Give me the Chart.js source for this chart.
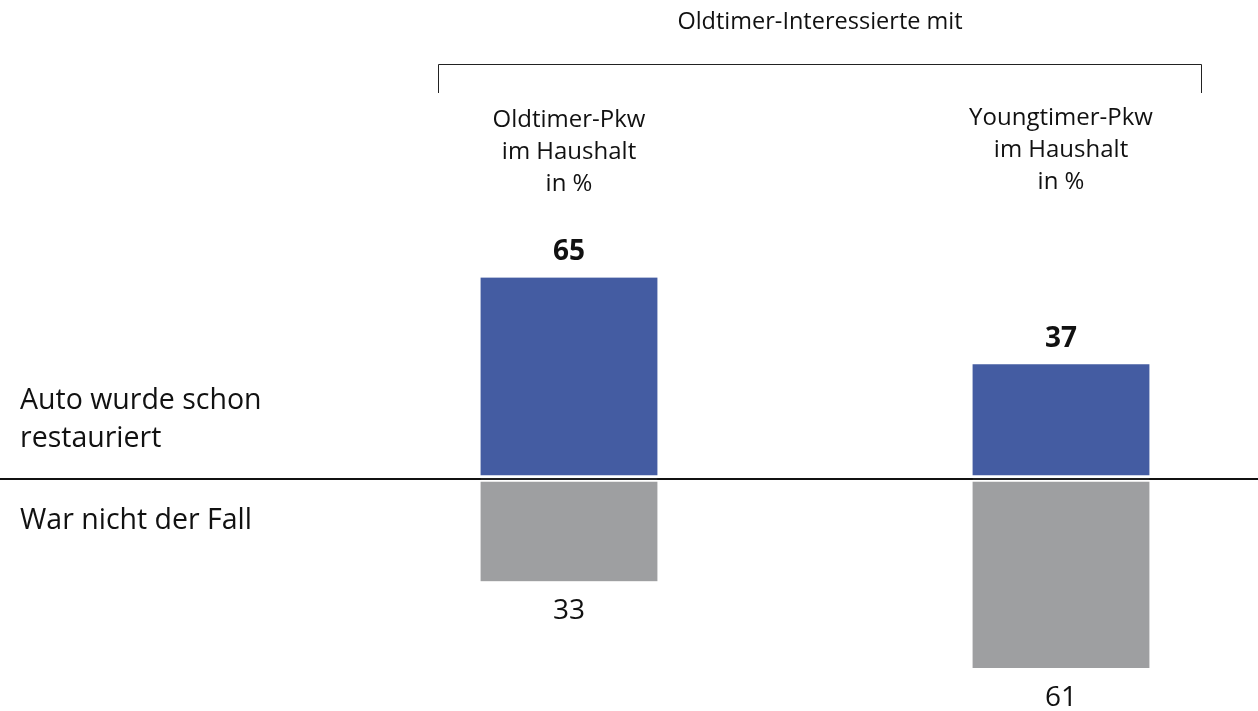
<!DOCTYPE html>
<html lang="de">
<head>
    <meta charset="UTF-8">
    <title>Oldtimer-Interessierte</title>
    <script src="https://cdn.jsdelivr.net/npm/chart.js"></script>
    <style>
        html, body {
            margin: 0;
            padding: 0;
            background: #fff;
        }
        #wrap {
            width: 1258px;
            height: 711px;
        }
    </style>
</head>
<body>
<div id="wrap"><canvas id="chart"></canvas></div>

<script>
    // Daten
    const groupTitle = 'Oldtimer-Interessierte mit';
    const categories = [
        ['Oldtimer-Pkw', 'im Haushalt', 'in %'],
        ['Youngtimer-Pkw', 'im Haushalt', 'in %']
    ];
    const rowLabels = [['Auto wurde schon', 'restauriert'], ['War nicht der Fall']];
    const restauriert = [65, 37];
    const nichtRestauriert = [33, 61];

    const FONT = '"Open Sans", "Noto Sans", sans-serif';
    const BLUE = '#445ca2';
    const GREY = '#9e9fa1';
    const TEXT = '#111';

    // Beschriftungen, Klammer und Zeilentitel
    const annotate = {
        id: 'annotate',
        afterDatasetsDraw(chart) {
            const ctx = chart.ctx;
            const x = chart.scales.x;
            const y = chart.scales.y;
            ctx.save();
            ctx.fillStyle = TEXT;
            ctx.textAlign = 'center';
            ctx.textBaseline = 'middle';

            // Obertitel + Klammer
            ctx.font = '23.5px ' + FONT;
            ctx.fillText(groupTitle, 820, 22);
            ctx.strokeStyle = '#222';
            ctx.lineWidth = 1;
            ctx.beginPath();
            ctx.moveTo(438.5, 93);
            ctx.lineTo(438.5, 64.5);
            ctx.lineTo(1201.5, 64.5);
            ctx.lineTo(1201.5, 93);
            ctx.stroke();

            // Spaltenköpfe
            ctx.font = '24px ' + FONT;
            categories.forEach((lines, i) => {
                const cx = x.getPixelForValue(i);
                lines.forEach((t, k) => ctx.fillText(t, cx, 120 + k * 32 - i * 2));
            });

            // Werte
            chart.getDatasetMeta(0).data.forEach((bar, i) => {
                ctx.font = 'bold 28px ' + FONT;
                ctx.fillText(restauriert[i], bar.x, bar.y - 25);
            });
            chart.getDatasetMeta(1).data.forEach((bar, i) => {
                ctx.font = '28px ' + FONT;
                ctx.fillText(nichtRestauriert[i], bar.x, bar.y + 30);
            });

            // Zeilentitel
            ctx.textAlign = 'left';
            ctx.font = '28.5px ' + FONT;
            const zero = y.getPixelForValue(0);
            rowLabels[0].forEach((t, k) => ctx.fillText(t, 20, zero - 78 + k * 38));
            rowLabels[1].forEach((t, k) => ctx.fillText(t, 20, zero + 42 + k * 38));
            ctx.restore();
        }
    };

    new Chart(document.getElementById('chart'), {
        type: 'bar',
        data: {
            datasets: [{
                label: rowLabels[0].join(' '),
                data: restauriert.map((v, i) => ({x: i, y: v})),
                backgroundColor: BLUE,
                borderColor: '#fff',
                borderWidth: {top: 0, left: 0, right: 0, bottom: 3},
                borderSkipped: false,
                stack: 's'
            }, {
                label: rowLabels[1].join(' '),
                data: nichtRestauriert.map((v, i) => ({x: i, y: -v})),
                backgroundColor: GREY,
                borderColor: '#fff',
                borderWidth: {top: 2, left: 0, right: 0, bottom: 0},
                borderSkipped: false,
                stack: 's'
            }]
        },
        options: {
            responsive: true,
            maintainAspectRatio: false,
            animation: false,
            layout: {padding: {top: 200, bottom: 11, left: 0, right: 0}},
            datasets: {bar: {barThickness: 177}},
            plugins: {
                legend: {display: false},
                tooltip: {enabled: false}
            },
            scales: {
                x: {
                    type: 'linear',
                    stacked: true,
                    display: false,
                    offset: false,
                    min: -1.1565,
                    max: 1.4004
                },
                y: {
                    stacked: true,
                    min: -71.29,
                    max: 90,
                    ticks: {display: false},
                    border: {display: false},
                    grid: {
                        drawTicks: false,
                        color: ctx => ctx.tick.value === 0 ? '#111' : 'transparent',
                        lineWidth: ctx => ctx.tick.value === 0 ? 2 : 0
                    }
                }
            }
        },
        plugins: [annotate]
    });
</script>
</body>
</html>
